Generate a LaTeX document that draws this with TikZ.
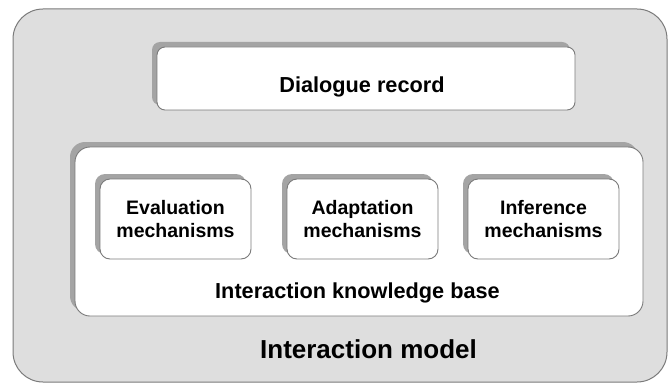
\documentclass[tikz,border=0pt]{standalone}
\usepackage{fontspec}
\setmainfont{Liberation Sans}
\usetikzlibrary{shadows}
\definecolor{outerfill}{HTML}{DEDEDE}
\definecolor{edgegray}{HTML}{7A7A7A}
\definecolor{shadegray}{HTML}{A4A4A4}
\begin{document}
\begin{tikzpicture}[x=1pt,y=-1pt,
  outerbox/.style={draw=edgegray, line width=1pt, fill=outerfill, rounded corners=30pt,
    inner sep=0pt, minimum width=654pt, minimum height=373pt},
  whitebox/.style={draw=edgegray, line width=0.9pt, fill=white, inner sep=0pt,
    drop shadow={shadow xshift=-5pt, shadow yshift=5pt, fill=shadegray, opacity=1}},
  mechbox/.style={whitebox, rounded corners=10pt, minimum width=151pt, minimum height=80pt,
    align=center, font=\fontsize{19.5}{23}\selectfont\bfseries},
  lbl/.style={anchor=base, inner sep=0pt, font=\fontsize{21.7}{26}\selectfont\bfseries},
  biglbl/.style={anchor=base, inner sep=0pt, font=\fontsize{26}{30}\selectfont\bfseries}
]
\useasboundingbox (0,0) rectangle (671,385);
\node[outerbox] (outer) at (340,195.5) {};
\node[whitebox, rounded corners=8pt, minimum width=418pt, minimum height=63pt] (dialogue) at (366,78.5) {};
\node[lbl] (dialoguetext) at (362,93) {Dialogue record};
\node[whitebox, rounded corners=15pt, minimum width=568pt, minimum height=169pt] (kb) at (359,231.5) {};
\node[mechbox] (eval) at (175.5,219) {Evaluation\\mechanisms};
\node[mechbox] (adapt) at (362.5,219) {Adaptation\\mechanisms};
\node[mechbox] (infer) at (543.5,219) {Inference\\mechanisms};
\node[lbl] (kbtext) at (357.5,298) {Interaction knowledge base};
\node[biglbl] (modeltext) at (368.5,358) {Interaction model};
\end{tikzpicture}
\end{document}
